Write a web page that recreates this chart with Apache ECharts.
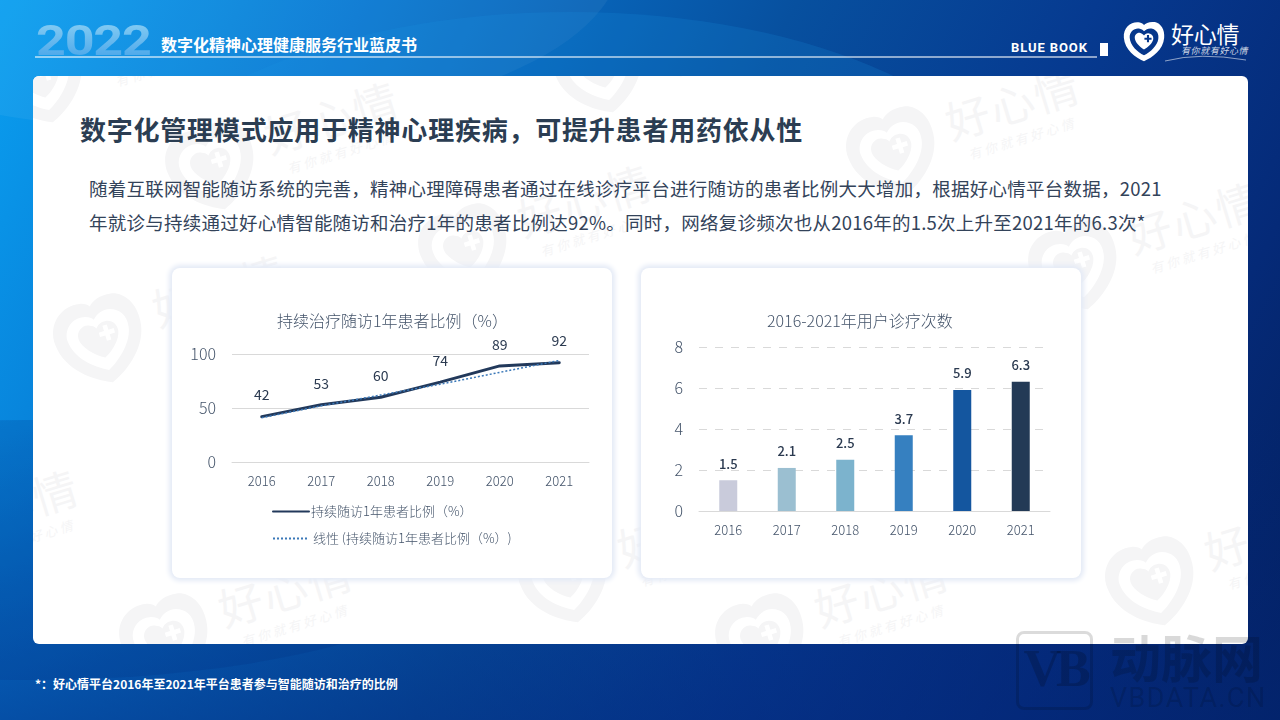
<!DOCTYPE html>
<html>
<head>
<meta charset="utf-8">
<script src="https://cdn.jsdelivr.net/npm/echarts@6/dist/echarts.min.js"></script>
<style>
*{margin:0;padding:0;box-sizing:border-box}
html,body{width:1280px;height:720px;overflow:hidden;font-family:"Noto Sans CJK SC","Noto Sans",sans-serif}
#page{position:relative;width:1280px;height:720px;overflow:hidden;background:linear-gradient(to top,rgba(3,40,125,.5),rgba(3,40,125,0) 42%),linear-gradient(118deg,#0a9ff0 0%,#0778d2 22%,#07509f 48%,#063a90 66%,#052a78 84%,#031f5c 100%)}
.arc{position:absolute;border-radius:50%}
.abs{position:absolute;white-space:nowrap}
#panel{position:absolute;left:33px;top:76px;width:1215px;height:568px;background:#fff;border-radius:6px;overflow:hidden}
.wm{position:absolute;width:0;height:0;transform:rotate(-17deg)}
.wm svg{position:absolute;left:-46px;top:-46px;width:92px;height:92px;fill:#f5f5f6}
.wm b{position:absolute;left:60px;top:-46px;font-size:44px;font-weight:400;letter-spacing:2px;color:#f5f5f6;white-space:nowrap}
.wm i{position:absolute;left:72px;top:14px;font-size:13px;letter-spacing:3px;color:#f5f5f6;white-space:nowrap}
.card{position:absolute;top:268px;width:440px;height:310px;background:#fff;border-radius:8px;box-shadow:0 0 5px 3px #e4eaf6}
#year{left:36px;top:16px;font:700 42px/50px Roboto,sans-serif;letter-spacing:-1px;transform-origin:0 0;transform:scale(1.24,1);background:linear-gradient(#8fd3f5,#3f9fe8);-webkit-background-clip:text;background-clip:text;color:transparent}
#vb{position:absolute;left:1016px;top:631px;width:77px;height:79px;border:3px solid rgba(0,0,0,.14);border-radius:8px;color:rgba(0,0,0,.18);font:700 52px/70px "Liberation Serif",serif;text-align:center;letter-spacing:-5px;overflow:hidden}
</style>
</head>
<body>
<div id="page">
  <div class="arc" style="left:-260px;top:-210px;width:880px;height:340px;background:rgba(255,255,255,.05)"></div>
  <div class="arc" style="left:120px;top:12px;width:900px;height:420px;background:rgba(30,150,230,.18)"></div>
  <div class="arc" style="left:-420px;top:420px;width:900px;height:260px;background:rgba(0,40,120,.16)"></div>

  <div id="year" class="abs">2022</div>
  <div class="abs" style="left:161px;top:32px;font-size:16px;font-weight:700;line-height:24px;color:#fff">数字化精神心理健康服务行业蓝皮书</div>
  <div class="abs" style="left:35px;top:56px;width:1062px;height:2px;background:rgba(255,255,255,.55)"></div>
  <div class="abs" style="left:1011px;top:39px;font:700 13px/18px Roboto,sans-serif;letter-spacing:.9px;color:#fff">BLUE BOOK</div>
  <div class="abs" style="left:1100px;top:43px;width:8px;height:13px;background:#fff"></div>
  <svg class="abs" style="left:1122px;top:20px;width:44px;height:42px" viewBox="0 0 100 100"><use href="#heart" fill="#fff"/></svg>
  <div class="abs" style="left:1171px;top:16px;font-size:23px;line-height:34px;letter-spacing:-.3px;color:#fff">好心情</div>
  <div class="abs" style="left:1181px;top:44px;font-size:9px;line-height:14px;font-style:italic;letter-spacing:.6px;color:rgba(255,255,255,.8)">有你就有好心情</div>
  <svg class="abs" style="left:1160px;top:52px;width:88px;height:10px" viewBox="0 0 88 10"><path d="M5 9Q40 0 86 8" fill="none" stroke="rgba(255,255,255,.55)"/></svg>

  <div id="panel">
    <div id="marks"></div>
    <div class="abs" style="left:47px;top:33px;font-size:26px;font-weight:700;line-height:40px;letter-spacing:.78px;color:#2b3d52">数字化管理模式应用于精神心理疾病，可提升患者用药依从性</div>
    <div class="abs" style="left:56px;top:95px;font-size:18.5px;line-height:34px;letter-spacing:.24px;color:#33435a">随着互联网智能随访系统的完善，精神心理障碍患者通过在线诊疗平台进行随访的患者比例大大增加，根据好心情平台数据，2021<br>年就诊与持续通过好心情智能随访和治疗1年的患者比例达92%。同时，网络复诊频次也从2016年的1.5次上升至2021年的6.3次*</div>
  </div>

  <div class="card" style="left:172px"><div id="lineChart" style="width:440px;height:310px"></div></div>
  <div class="card" style="left:641px"><div id="barChart" style="width:440px;height:310px"></div></div>

  <div class="abs" style="left:35px;top:675px;font-size:12px;font-weight:700;line-height:18px;color:#fff">*：好心情平台2016年至2021年平台患者参与智能随访和治疗的比例</div>

  <div id="vb">VB</div>
  <div class="abs" style="left:1110px;top:621px;font-size:51px;font-weight:700;line-height:70px;color:rgba(0,0,0,.15)">动脉网</div>
  <div class="abs" style="left:1110px;top:684px;font:400 27px/28px Roboto,sans-serif;letter-spacing:1.4px;color:rgba(0,0,0,.14)">VBDATA.CN</div>
</div>

<svg width="0" height="0" style="position:absolute">
  <symbol id="heart" viewBox="0 0 100 100">
    <path fill-rule="evenodd" d="M50 98C30 90 4 70 2 42 0 16 22 2 40 6c5 1 8 3 10 6 4-5 14-9 26-7 14 3 24 18 22 38C96 70 70 90 50 98ZM50 84C34 76 17 60 16 42 15 28 28 18 40 21c5 1 8 3 10 6 5-5 12-8 20-6 10 3 16 12 14 24C82 60 66 76 50 84Z"/>
    <path fill-rule="evenodd" d="M50 70C40 64 28 52 28 42 28 33 38 28 44 32c3 1 5 3 6 5 2-3 6-6 12-5 7 1 11 7 10 14C70 56 60 65 50 70ZM57 36v6h-6v5h6v6h5v-6h6v-5h-6v-6Z"/>
  </symbol>
</svg>

<script>
var years = ['2016', '2017', '2018', '2019', '2020', '2021'];
var followRate = [42, 53, 60, 74, 89, 92];
var followTrend = [41, 52, 62, 72, 83, 94];
var visitCount = [1.5, 2.1, 2.5, 3.7, 5.9, 6.3];
var barColors = ['#c9cbdb', '#9bbfd1', '#7cb3cd', '#3680c0', '#14569f', '#233a56'];
var rateName = '持续随访1年患者比例（%）';
var trendName = '线性 (持续随访1年患者比例（%）)';

// 背景水印，位置是相对面板的
var markPos = [[7, 4], [179, 91], [567, -6], [860, 77], [432, 174], [1042, 191], [67, 264], [-141, 479], [532, 504], [133, 564], [729, 564], [1119, 507]];
var marks = document.getElementById('marks');
markPos.forEach(function (p) {
  var d = document.createElement('div');
  d.className = 'wm';
  d.style.left = p[0] + 'px';
  d.style.top = p[1] + 'px';
  d.innerHTML = '<svg viewBox="0 0 100 100"><use href="#heart"/></svg><b>好心情</b><i>有你就有好心情</i>';
  marks.appendChild(d);
});

var textColor = '#44546a';
var cjk = 'Noto Sans CJK SC';

var lineChart = echarts.init(document.getElementById('lineChart'));
lineChart.setOption({
  animation: false,
  title: {
    text: '持续治疗随访1年患者比例（%）',
    left: 100,
    top: 40,
    textStyle: { fontSize: 16, fontWeight: 300, color: textColor, fontFamily: cjk }
  },
  legend: {
    left: 95,
    top: 232,
    orient: 'vertical',
    itemGap: 13,
    itemWidth: 36,
    itemHeight: 16,
    itemStyle: { opacity: 0 },
    textStyle: { fontSize: 13, fontWeight: 300, color: textColor, padding: [0, 0, 0, -3], fontFamily: cjk },
    data: [rateName, { name: trendName, textStyle: { padding: [0, 0, 0, -1] } }]
  },
  grid: { left: 60, right: 23, top: 86, height: 108 },
  xAxis: {
    type: 'category',
    data: years,
    axisTick: { show: false },
    axisLine: { lineStyle: { color: '#d9d9d9' } },
    axisLabel: { fontSize: 13, fontWeight: 300, color: textColor, margin: 13, fontFamily: cjk }
  },
  yAxis: {
    type: 'value',
    min: 0,
    max: 100,
    interval: 50,
    axisLine: { show: false },
    axisTick: { show: false },
    splitLine: { lineStyle: { color: '#d9d9d9' } },
    axisLabel: { fontSize: 16, fontWeight: 300, color: textColor, margin: 16, padding: [0, 0, 2, 0], fontFamily: cjk }
  },
  series: [
    {
      name: rateName,
      type: 'line',
      data: followRate,
      symbol: 'circle',
      symbolSize: 1,
      showSymbol: true,
      lineStyle: { color: '#22395b', width: 3, cap: 'round' },
      itemStyle: { color: '#22395b' },
      label: { show: true, position: 'top', distance: 14, fontSize: 14, color: '#2b3a50', fontFamily: cjk },
      z: 2
    },
    {
      name: trendName,
      type: 'line',
      data: followTrend,
      showSymbol: false,
      lineStyle: { color: '#3a78b8', width: 1.5, type: [2, 2] },
      itemStyle: { color: '#3a78b8' },
      z: 3
    }
  ]
});

var barChart = echarts.init(document.getElementById('barChart'));
barChart.setOption({
  animation: false,
  title: {
    text: '2016-2021年用户诊疗次数',
    left: 121,
    top: 40,
    textStyle: { fontSize: 16, fontWeight: 300, color: textColor, fontFamily: cjk }
  },
  grid: { left: 58, right: 31, top: 79, height: 164 },
  xAxis: {
    type: 'category',
    data: years,
    axisTick: { show: false },
    axisLine: { lineStyle: { color: '#d9d9d9' } },
    axisLabel: { fontSize: 13, fontWeight: 300, color: textColor, margin: 13, fontFamily: cjk }
  },
  yAxis: {
    type: 'value',
    min: 0,
    max: 8,
    interval: 2,
    axisLine: { show: false },
    axisTick: { show: false },
    splitLine: { lineStyle: { color: '#d9d9d9', type: [8, 8] } },
    axisLabel: { fontSize: 16, fontWeight: 300, color: textColor, margin: 16, padding: [0, 0, 2, 0], fontFamily: cjk }
  },
  series: [{
    type: 'bar',
    barWidth: 18,
    data: visitCount.map(function (v, i) {
      return { value: v, itemStyle: { color: barColors[i] } };
    }),
    label: { show: true, position: 'top', distance: 10, fontSize: 13, fontWeight: 500, color: '#2b3a50', fontFamily: cjk }
  }]
});
</script>
</body>
</html>
